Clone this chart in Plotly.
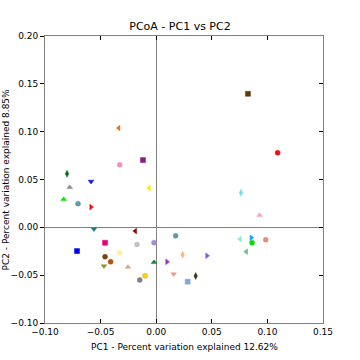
import plotly.graph_objects as go

pc1 = [-0.0337, -0.0119, -0.0328, -0.0802, -0.0778, -0.0586, -0.0065, -0.0832, -0.0703, -0.0586,
       -0.0560, -0.0188, 0.0825, 0.1092, 0.0762, 0.0930, 0.0175, 0.0754, 0.0855, 0.0985,
       0.0862, 0.0810, 0.0238, 0.0457, -0.0460, -0.0712, -0.0173, -0.0020, -0.0460, -0.0330,
       -0.0410, -0.0470, -0.0254, -0.0020, 0.0097, 0.0157, 0.0355, -0.0100, -0.0148, 0.0283]
pc2 = [0.1038, 0.0703, 0.0654, 0.0560, 0.0418, 0.0480, 0.0410, 0.0293, 0.0247, 0.0212,
       -0.0018, -0.0039, 0.1396, 0.0780, 0.0362, 0.0125, -0.0088, -0.0122, -0.0109, -0.0130,
       -0.0161, -0.0255, -0.0286, -0.0297, -0.0161, -0.0248, -0.0180, -0.0160, -0.0307, -0.0265,
       -0.0360, -0.0405, -0.0415, -0.0366, -0.0360, -0.0488, -0.0509, -0.0506, -0.0550, -0.0568]
symbols = ["triangle-left", "square", "circle", "diamond-tall", "triangle-up", "triangle-down",
           "triangle-left", "triangle-up", "circle", "triangle-right",
           "triangle-down", "triangle-left", "square", "circle", "diamond-tall", "triangle-up",
           "circle", "triangle-left", "triangle-right", "circle",
           "circle", "triangle-left", "diamond-tall", "triangle-right", "square", "square",
           "circle", "circle", "circle", "circle",
           "circle", "triangle-down", "triangle-up", "triangle-up", "triangle-right",
           "triangle-down", "diamond-tall", "circle", "circle", "square"]
colors = ["#e8731f", "#8b1a8b", "#f28fc0", "#0a6a1a", "#8c8c8c", "#1010f0",
          "#f5f000", "#10e010", "#5f9ea0", "#f01010",
          "#10807f", "#8b0a0a", "#5e3a0a", "#f01010", "#70e0f0", "#f5a0c8",
          "#5f9ea0", "#80e8f0", "#1e9fff", "#f08878",
          "#00e000", "#66bb88", "#fdb27a", "#8855ee", "#e6007e", "#0000f0",
          "#c0c0c0", "#a58bd4", "#7b4513", "#fff09a",
          "#b5520f", "#9a9020", "#daa882", "#108a30", "#9932cc",
          "#f4978a", "#333d10", "#ffd700", "#808080", "#7fa7dc"]
edges = list(colors)
edges[37] = "#ff8c00"

x_title = "PC1 - Percent variation explained 12.62%"
y_title = "PC2 - Percent variation explained 8.85%"
tick_vals_x = [-0.10, -0.05, 0.0, 0.05, 0.10, 0.15]
tick_vals_y = [-0.10, -0.05, 0.0, 0.05, 0.10, 0.15, 0.20]

fig = go.Figure()
fig.add_trace(go.Scatter(
    x=pc1, y=pc2, mode="markers",
    marker=dict(symbol=symbols, color=colors, size=5,
                line=dict(color=edges, width=0.5)),
    showlegend=False, hoverinfo="skip"))
# right-side inward ticks
fig.add_trace(go.Scatter(x=[None], y=[None], yaxis="y2", showlegend=False))

font = dict(family="DejaVu Sans", size=9, color="#000000")
W, H = 360, 360
L, R, T, B = 45, 37, 36, 37
pw, ph = W - L - R, H - T - B
fig.update_layout(
    width=W, height=H,
    margin=dict(l=L, r=R, t=T, b=B),
    paper_bgcolor="white", plot_bgcolor="white",
    title=dict(text="PCoA - PC1 vs PC2", x=0.5, xanchor="center", y=1 - 30/H,
               yanchor="bottom", font=dict(family="DejaVu Sans", size=11, color="#000")),
    xaxis=dict(range=[-0.10, 0.15], tickvals=tick_vals_x,
               ticktext=["\u2212%.2f" % -v if v < 0 else "%.2f" % v for v in tick_vals_x],
               ticks="inside", ticklen=4, tickcolor="#000", mirror="ticks",
               showline=True, linecolor="#808080", linewidth=1, showgrid=False,
               zeroline=True, zerolinecolor="#808080", zerolinewidth=1,
               tickfont=font, automargin=False),
    yaxis=dict(range=[-0.10, 0.20], tickvals=tick_vals_y,
               ticktext=["\u2212%.2f" % -v if v < 0 else "%.2f" % v for v in tick_vals_y],
               ticks="outside", ticklen=4, tickcolor="#000", mirror=True,
               showline=True, linecolor="#808080", linewidth=1, showgrid=False,
               zeroline=True, zerolinecolor="#808080", zerolinewidth=1,
               tickfont=font, automargin=False),
    yaxis2=dict(range=[-0.10, 0.20], overlaying="y", side="right",
                tickvals=tick_vals_y,
                ticks="inside", ticklen=4, tickcolor="#000", showticklabels=False,
                showgrid=False, zeroline=False, showline=False, automargin=False),
    annotations=[
        dict(text=x_title, xref="paper", yref="paper", x=0.5, y=-(347 - (T + ph)) / ph,
             xanchor="center", yanchor="middle", showarrow=False,
             font=dict(family="DejaVu Sans", size=9, color="#000")),
        dict(text=y_title, xref="paper", yref="paper", x=(5 - L) / pw, y=0.5,
             xanchor="center", yanchor="middle", showarrow=False, textangle=-90,
             font=dict(family="DejaVu Sans", size=9, color="#000")),
    ],
)
fig.write_html("out.html", config={"displayModeBar": False},
               post_script="document.body.style.margin='0';document.body.style.overflow='hidden';")
